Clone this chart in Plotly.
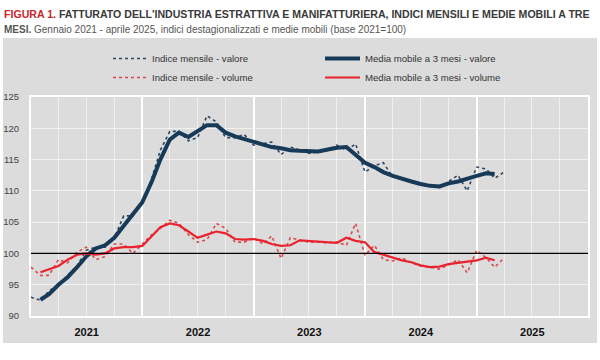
import plotly.graph_objects as go

# ---------------- data ----------------
months = [f"{2021 + i // 12}-{i % 12 + 1:02d}-01" for i in range(52)]  # Jan 2021 .. Apr 2025

valore_mensile = [
    93.0, 92.5, 94.0, 95.0, 96.5, 98.0, 100.5, 101.0, 101.0, 102.5, 106.0, 106.0,
    108.0, 112.0, 116.5, 119.5, 119.5, 118.0, 118.5, 122.0, 121.0, 118.5, 118.5, 119.0,
    117.3, 117.5, 117.8, 115.8, 117.0, 116.5, 116.0, 116.2, 116.5, 117.3, 116.5, 117.5,
    113.0, 114.0, 114.5, 112.2, 112.0, 111.5, 111.0, 110.8, 110.5, 111.5, 112.5, 110.0,
    113.8, 113.5, 112.0, 113.0,
]
volume_mensile = [
    97.8, 96.5, 96.5, 99.0, 98.5, 100.2, 101.0, 99.0, 99.5, 101.5, 101.5, 100.0,
    101.5, 103.0, 104.0, 105.3, 104.8, 103.0, 101.8, 102.2, 104.8, 104.0, 101.8, 101.8,
    102.5, 101.5, 102.8, 99.2, 102.5, 102.2, 101.8, 101.8, 101.7, 101.8, 101.3, 104.8,
    99.7, 101.3, 99.0, 98.8, 99.3, 98.5, 98.0, 97.8, 97.5, 98.2, 99.0, 96.9,
    100.5, 99.3, 97.8, 99.3,
]
# 3-month moving averages (Feb 2021 .. Mar 2025)
valore_mm3 = [
    92.6, 93.5, 95.0, 96.2, 97.8, 99.5, 100.8, 101.3, 102.5, 104.5, 106.2,
    108.2, 111.5, 115.0, 118.2, 119.3, 118.6, 119.5, 120.5, 120.5, 119.3, 118.7, 118.3,
    117.9, 117.4, 117.0, 116.8, 116.5, 116.4, 116.3, 116.3, 116.6, 116.9, 117.0, 115.7,
    114.5, 113.8, 113.0, 112.4, 111.9, 111.5, 111.1, 110.8, 110.7, 111.2, 111.5, 112.0,
    112.4, 112.8, 112.7,
]
volume_mm3 = [
    97.0, 97.5, 98.0, 99.0, 99.8, 100.0, 99.8, 100.0, 100.8, 101.0, 101.0,
    101.2, 102.8, 104.2, 104.8, 104.5, 103.5, 102.5, 103.0, 103.5, 103.2, 102.3, 102.2,
    102.3, 102.0, 101.5, 101.2, 101.3, 102.1, 102.0, 101.8, 101.8, 101.7, 102.5, 102.0,
    101.8, 100.2, 99.8, 99.3, 98.9, 98.6, 98.1, 97.8, 97.9, 98.3, 98.5, 98.6,
    98.9, 99.3, 98.9,
]
mm_months = months[1:51]

NAVY = "#173a58"
RED = "#e8232d"
GRAY_BG = "#dcdcdc"
FONT = "Liberation Sans Narrow, Arial Narrow, Liberation Sans, Arial, sans-serif"

fig = go.Figure()
fig.add_trace(go.Scatter(x=months, y=valore_mensile, mode="lines", name="Indice mensile - valore",
                         line=dict(color="#2c4560", width=1.6, dash="dot"), legend="legend"))
fig.add_trace(go.Scatter(x=months, y=volume_mensile, mode="lines", name="Indice mensile - volume",
                         line=dict(color="#d84a50", width=1.6, dash="dot"), legend="legend"))
fig.add_trace(go.Scatter(x=mm_months, y=valore_mm3, mode="lines", name="Media mobile a 3 mesi - valore",
                         line=dict(color=NAVY, width=4), legend="legend2"))
fig.add_trace(go.Scatter(x=mm_months, y=volume_mm3, mode="lines", name="Media mobile a 3 mesi - volume",
                         line=dict(color=RED, width=2.2), legend="legend2"))

W, H = 600, 360
L, R, T, B = 31, 12, 97, 44
pw, ph = W - L - R, H - T - B
def px(x): return (x - L) / pw
def py(y): return (H - B - y) / ph

shapes = [
    dict(type="rect", xref="paper", yref="paper", x0=px(3), x1=px(597), y0=py(343), y1=py(38),
         fillcolor=GRAY_BG, line=dict(width=0), layer="below"),
    dict(type="line", xref="paper", yref="y", x0=0, x1=1, y0=100, y1=100,
         line=dict(color="black", width=1.2), layer="above"),
]

annotations = [
    dict(xref="paper", yref="paper", x=px(2), y=py(14), xanchor="left", yanchor="middle",
         showarrow=False, align="left",
         text="<b><span style='color:#c8262c'>FIGURA 1.</span> FATTURATO DELL'INDUSTRIA ESTRATTIVA E MANIFATTURIERA, INDICI MENSILI E MEDIE MOBILI A TRE</b>",
         font=dict(family=FONT, size=10.6, color="#3a3a3a")),
    dict(xref="paper", yref="paper", x=px(2), y=py(29), xanchor="left", yanchor="middle",
         showarrow=False, align="left",
         text="<b>MESI.</b> Gennaio 2021 - aprile 2025, indici destagionalizzati e medie mobili (base 2021=100)",
         font=dict(family=FONT, size=10, color="#555555")),
]

leg_common = dict(xanchor="left", yanchor="top", orientation="v", xref="container", yref="container",
                  bgcolor="rgba(0,0,0,0)", font=dict(family=FONT, size=9.6, color="#333333"),
                  tracegroupgap=0)

fig.update_layout(
    width=W, height=H,
    margin=dict(l=L, r=R, t=T, b=B, autoexpand=False),
    paper_bgcolor="white",
    plot_bgcolor=GRAY_BG,
    shapes=shapes,
    annotations=annotations,
    legend=dict(x=108 / W, y=1 - 44 / H, itemwidth=34, **leg_common),
    legend2=dict(x=320 / W, y=1 - 44 / H, itemwidth=35, **leg_common),
    xaxis=dict(type="date", range=["2021-01-01", "2026-01-01"],
               tick0="2021-01-01", dtick="M12", tickformat="%Y", ticklabelmode="period",
               tickfont=dict(family="Liberation Sans, Arial, sans-serif", size=11, color="#111111", weight="bold"),
               showgrid=True, gridcolor="white", gridwidth=2,
               minor=dict(dtick="M3", showgrid=True, gridcolor="rgba(255,255,255,0.55)", gridwidth=1),
               showline=True, linecolor="white", linewidth=2, mirror=True,
               ticks="outside", ticklen=5, tickcolor="rgba(0,0,0,0)",
               zeroline=False, fixedrange=True, automargin=False),
    yaxis=dict(range=[90, 125], dtick=5, tick0=90,
               tickfont=dict(family=FONT, size=9.5, color="#444444"),
               showgrid=True, gridcolor="rgba(255,255,255,0.6)", gridwidth=1,
               showline=True, linecolor="white", linewidth=2, mirror=True,
               ticks="outside", ticklen=8, tickcolor="rgba(0,0,0,0)",
               zeroline=False, fixedrange=True, automargin=False),
)

fig.write_html("out.html", config={"displayModeBar": False},
               post_script="document.body.style.margin='0';")
